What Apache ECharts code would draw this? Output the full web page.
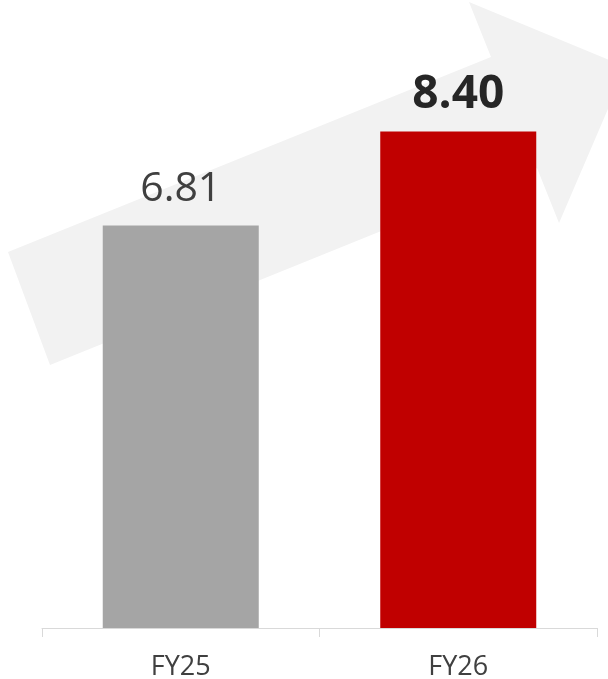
<!DOCTYPE html>
<html>
<head>
<meta charset="utf-8">
<script src="https://cdn.jsdelivr.net/npm/echarts@6/dist/echarts.min.js"></script>
<style>
   html, body { margin: 0; padding: 0; background: #ffffff; }
   #chart { width: 608px; height: 679px; }
</style>
</head>
<body>
<div id="chart"></div>
<script>
// chart data
var categories = ['FY25', 'FY26'];
var values = [6.81, 8.40];
var barColors = ['#a5a5a5', '#c00000'];

var chart = echarts.init(document.getElementById('chart'));

var option = {
   animation: false,
   grid: { left: 42, right: 11, top: 37, bottom: 51, outerBoundsMode: 'none' },
   // big light arrow in the background
   graphic: [{
      type: 'polygon',
      z: -10,
      silent: true,
      shape: {
         points: [[8, 252], [491, 57], [469, 2], [626, 67], [559, 223], [537, 168], [50, 365]]
      },
      style: { fill: '#f2f2f2' }
   }],
   xAxis: {
      type: 'category',
      data: categories,
      axisLine: { lineStyle: { color: '#d9d9d9', width: 1 } },
      axisTick: { show: true, length: 9, lineStyle: { color: '#d9d9d9' } },
      axisLabel: { color: '#404040', fontSize: 27, fontFamily: 'Open Sans', margin: 26 }
   },
   yAxis: {
      type: 'value',
      min: 0,
      max: 10,
      show: false,
      splitLine: { show: false }
   },
   series: [{
      type: 'bar',
      barWidth: 156,
      data: values.map(function (v, i) {
         var last = i === values.length - 1;
         return {
            value: v,
            itemStyle: { color: barColors[i] },
            label: {
               show: true,
               position: 'top',
               distance: last ? 14 : 16,
               formatter: function (p) { return p.value.toFixed(2); },
               fontFamily: 'Open Sans',
               fontSize: last ? 46 : 41,
               fontWeight: last ? 'bold' : 'normal',
               color: last ? '#262626' : '#404040'
            }
         };
      })
   }]
};

chart.setOption(option);
</script>
</body>
</html>
